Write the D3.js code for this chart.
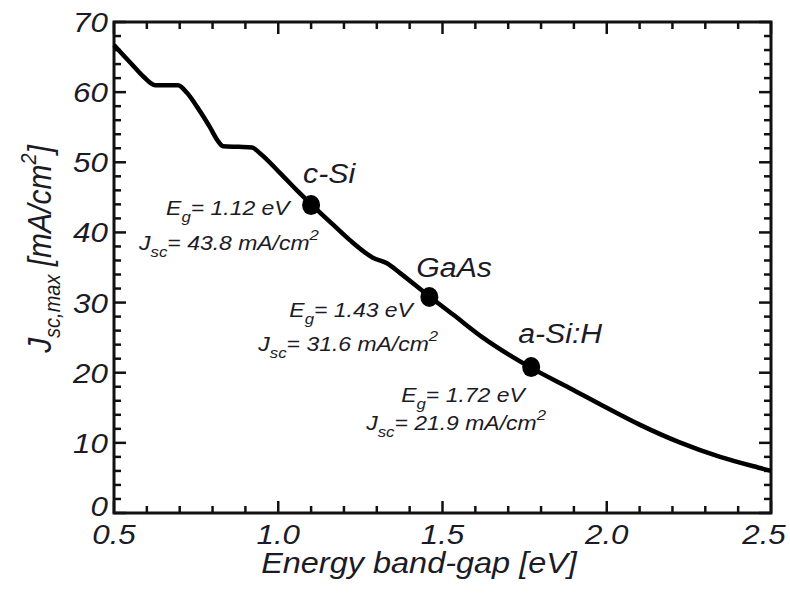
<!DOCTYPE html>
<html>
<head>
<meta charset="utf-8">
<script src="https://cdn.jsdelivr.net/npm/d3@7"></script>
<style>
  body { margin: 0; background: #fff; }
  svg { display: block; }
  text { font-family: "Liberation Sans", Arial, sans-serif; font-style: italic; fill: #1b1b26; }
</style>
</head>
<body>
<div id="chart"></div>
<script>

// curve
var energy = [0.50, 0.55, 0.59, 0.625, 0.66, 0.695, 0.722, 0.753, 0.792, 0.814, 0.832,
	      0.88, 0.92, 0.944, 1.005, 1.057, 1.103, 1.167, 1.218, 1.288, 1.331, 1.371,
	      1.462, 1.532, 1.623, 1.766, 1.888, 2.00, 2.10, 2.22, 2.345, 2.476, 2.50];
var jsc = [66.7, 64.2, 62.2, 61.0, 61.0, 61.0, 59.9, 57.9, 55.0, 53.2, 52.3,
	   52.2, 52.1, 51.3, 48.5, 46.0, 43.9, 41.1, 38.9, 36.4, 35.6, 34.2,
	   30.8, 28.3, 25.0, 20.8, 17.8, 15.0, 12.6, 10.1, 8.0, 6.3, 6.0];

// marked materials
var materials = ["c-Si", "GaAs", "a-Si:H"];
var mat_eg = ["1.12", "1.43", "1.72"];
var mat_jsc = ["43.8", "31.6", "21.9"];
var dot_e = [1.10, 1.46, 1.77];
var dot_j = [43.9, 30.8, 20.8];

var x_ticks = [0.5, 1.0, 1.5, 2.0, 2.5];
var y_ticks = [0, 10, 20, 30, 40, 50, 60, 70];

var W = 790, H = 599;
var margin = { left: 114, right: 19, top: 22, bottom: 86 };

// the lettering in the original is a bit wide
var stretch = 1.12;

// label placement relative to each dot [name, Eg line, Jsc line]
var offsets = [
    [[-8, -22], [-145, 10], [-172, 45]],
    [[-13, -20], [-140, 20], [-171, 54]],
    [[-13, -24], [-130, 35], [-165, 63]]
];

var svg = d3.select("#chart").append("svg")
    .attr("width", W)
    .attr("height", H);

var x = d3.scaleLinear()
    .domain([0.5, 2.5])
    .range([margin.left, W - margin.right]);

var y = d3.scaleLinear()
    .domain([0, 70])
    .range([H - margin.bottom, margin.top]);

var x0 = x.range()[0], x1 = x.range()[1];
var y0 = y.range()[0], y1 = y.range()[1];

var place = function(sel, px, py){
    return sel.attr("transform",
		    "translate(" + px + "," + py + ") scale(" + stretch + ",1)");
};

// inward ticks on all four sides
var ticks_g = svg.append("g")
    .attr("stroke", "#111")
    .attr("stroke-width", 2.5);

var x_minor = d3.range(0.5, 2.501, 0.1);
x_minor.forEach(function(v){
    var major = Math.abs(v * 2 - Math.round(v * 2)) < 1e-6;
    var len = major ? 12 : 7;
    ticks_g.append("line")
	.attr("x1", x(v)).attr("x2", x(v))
	.attr("y1", y0).attr("y2", y0 - len);
    ticks_g.append("line")
	.attr("x1", x(v)).attr("x2", x(v))
	.attr("y1", y1).attr("y2", y1 + len);
});

var y_minor = d3.range(0, 70.01, 2);
y_minor.forEach(function(v){
    var len = (v % 10 == 0) ? 12 : 7;
    ticks_g.append("line")
	.attr("x1", x0).attr("x2", x0 + len)
	.attr("y1", y(v)).attr("y2", y(v));
    ticks_g.append("line")
	.attr("x1", x1).attr("x2", x1 - len)
	.attr("y1", y(v)).attr("y2", y(v));
});

svg.append("rect")
    .attr("x", x0).attr("y", y1)
    .attr("width", x1 - x0).attr("height", y0 - y1)
    .attr("fill", "none")
    .attr("stroke", "#111")
    .attr("stroke-width", 3);

// tick labels
svg.append("g").selectAll("text")
    .data(x_ticks)
    .enter()
    .append("text")
    .each(function(d){ place(d3.select(this), Math.min(x(d), W - 26), y0 + 31); })
    .attr("text-anchor", "middle")
    .style("font-size", "28px")
    .text(function(d){ return d.toFixed(1); });

svg.append("g").selectAll("text")
    .data(y_ticks)
    .enter()
    .append("text")
    .each(function(d){
	place(d3.select(this), x0 - 6, y(d) + (d == 0 ? 3 : 10));
    })
    .attr("text-anchor", "end")
    .style("font-size", "28px")
    .text(function(d){ return d; });

// axis titles
place(svg.append("text"), 419, 573)
    .attr("text-anchor", "middle")
    .style("font-size", "29px")
    .text("Energy band-gap [eV]");

var ytitle = svg.append("text")
    .attr("transform", "translate(51," + 249 + ") rotate(-90) scale(1," + stretch + ")")
    .attr("text-anchor", "middle")
    .style("font-size", "30px");
ytitle.append("tspan").text("J");
ytitle.append("tspan")
    .attr("dy", 8)
    .style("font-size", "20px")
    .text("sc,max");
ytitle.append("tspan")
    .attr("dy", -8)
    .text(" [mA/cm");
ytitle.append("tspan")
    .attr("dy", -13)
    .style("font-size", "20px")
    .text("2");
ytitle.append("tspan")
    .attr("dy", 13)
    .text("]");

// the curve
var line = d3.line()
    .x(function(d){ return x(d[0]); })
    .y(function(d){ return y(d[1]); })
    .curve(d3.curveMonotoneX);

svg.append("path")
    .datum(d3.zip(energy, jsc))
    .attr("d", line)
    .attr("fill", "none")
    .attr("stroke", "#000")
    .attr("stroke-width", 4.5)
    .attr("stroke-linejoin", "round");

// dots and labels
materials.forEach(function(name, i){
    var cx = x(dot_e[i]), cy = y(dot_j[i]);
    var off = offsets[i];

    svg.append("ellipse")
	.attr("cx", cx).attr("cy", cy)
	.attr("rx", 9).attr("ry", 10)
	.attr("fill", "#000");

    place(svg.append("text"), cx + off[0][0], cy + off[0][1])
	.style("font-size", "27px")
	.text(name);

    var eg = place(svg.append("text"), cx + off[1][0], cy + off[1][1])
	.style("font-size", "20.5px");
    eg.append("tspan").text("E");
    eg.append("tspan").attr("dy", 7).style("font-size", "15px").text("g");
    eg.append("tspan").attr("dy", -7).text("= " + mat_eg[i] + " eV");

    var js = place(svg.append("text"), cx + off[2][0], cy + off[2][1])
	.style("font-size", "20.5px");
    js.append("tspan").text("J");
    js.append("tspan").attr("dy", 7).style("font-size", "15px").text("sc");
    js.append("tspan").attr("dy", -7).text("= " + mat_jsc[i] + " mA/cm");
    js.append("tspan").attr("dy", -10).style("font-size", "15px").text("2");
});

</script>
</body>
</html>
